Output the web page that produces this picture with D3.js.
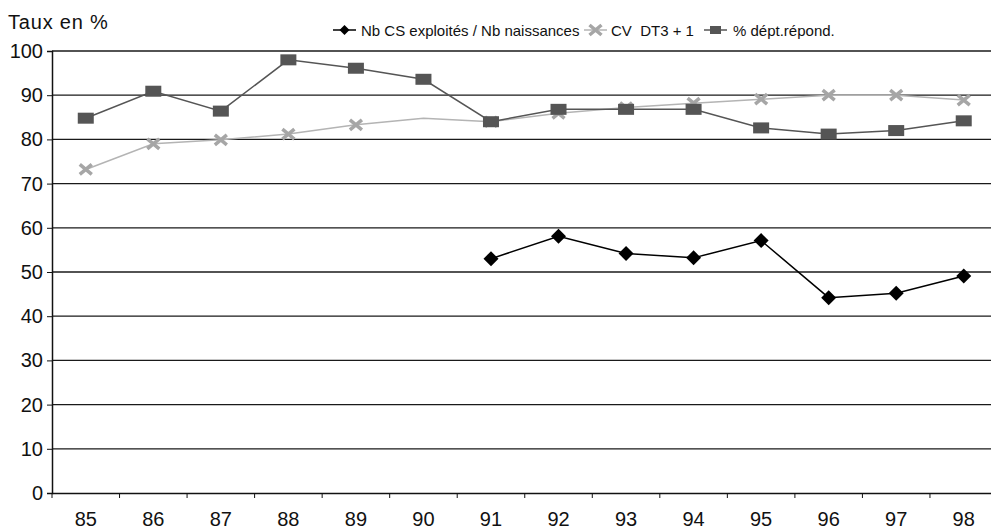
<!DOCTYPE html>
<html>
<head>
<meta charset="utf-8">
<script src="https://cdn.jsdelivr.net/npm/d3@7"></script>
<style>
  body { margin: 0; background: #fff; }
  svg { font-family: "Liberation Sans", Arial, sans-serif; }
</style>
</head>
<body>
<svg width="991" height="529"></svg>
<script>
let years = ["85", "86", "87", "88", "89", "90", "91", "92", "93", "94", "95", "96", "97", "98"];
let yTicks = [0, 10, 20, 30, 40, 50, 60, 70, 80, 90, 100];

// Nb CS exploités / Nb naissances (only from 91)
let csRatio = [null, null, null, null, null, null, 53, 58.1, 54.2, 53.2, 57.1, 44.2, 45.2, 49.1];
// CV DT3 + 1
let cvDt3 = [73.2, 79, 79.9, 81.2, 83.3, 84.8, 84, 85.9, 87.2, 88.2, 89.1, 90, 90, 88.9];
let cvNoMarker = ["90"];
// % dépt. répond.
let deptRep = [84.8, 90.9, 86.4, 98, 96.1, 93.6, 84, 86.8, 86.8, 86.8, 82.6, 81.2, 82, 84.2];

let svg = d3.select("svg");
let plotLeft = 52, plotRight = 997.5, plotTop = 51, plotBottom = 493;

let x = d3.scaleBand().domain(years).range([plotLeft, plotRight]);
let y = d3.scaleLinear().domain([0, 100]).range([plotBottom, plotTop]);
let cx = (d) => x(d) + x.bandwidth() / 2;

// gridlines
svg.append("g")
  .selectAll("line")
  .data(yTicks.filter((t) => t > 0))
  .enter()
  .append("line")
  .attr("x1", plotLeft)
  .attr("x2", 991)
  .attr("y1", (d) => y(d))
  .attr("y2", (d) => y(d))
  .style("stroke", "#1a1a1a")
  .attr("stroke-width", 1.3);

// y axis
let yAxis = svg.append("g")
  .attr("transform", `translate(${plotLeft},0)`)
  .call(d3.axisLeft(y).tickValues(yTicks).tickSize(5).tickPadding(4));
yAxis.select(".domain").attr("stroke", "#111").attr("stroke-width", 1.5);
yAxis.selectAll(".tick line").attr("stroke", "#111");
yAxis.selectAll("text").style("font-size", "20px").attr("fill", "#111");

// x axis
let xAxis = svg.append("g")
  .attr("transform", `translate(0,${plotBottom})`)
  .call(d3.axisBottom(x).tickSize(0).tickPadding(19));
xAxis.select(".domain").attr("stroke", "#111").attr("stroke-width", 1.5);
xAxis.selectAll("text").style("font-size", "20px").attr("fill", "#111");
svg.append("g")
  .selectAll("line")
  .data(years)
  .enter()
  .append("line")
  .attr("x1", (d) => x(d))
  .attr("x2", (d) => x(d))
  .attr("y1", plotBottom)
  .attr("y2", plotBottom + 5)
  .style("stroke", "#111");

svg.append("text")
  .attr("x", 8)
  .attr("y", 29)
  .style("font-size", "20px")
  .style("letter-spacing", "0.8px")
  .attr("fill", "#111")
  .text("Taux en %");

function series(vals) {
  return years.map((yr, i) => ({ yr: yr, v: vals[i] })).filter((d) => d.v !== null);
}

let line = d3.line().x((d) => cx(d.yr)).y((d) => y(d.v));

// CV DT3 + 1 (light grey, crosses)
let cvData = series(cvDt3);
svg.append("path")
  .datum(cvData)
  .attr("d", line)
  .attr("fill", "none")
  .style("stroke", "#b4b4b4")
  .attr("stroke-width", 1.5);

function cross(g, px, py) {
  g.append("path")
    .attr("d", `M${px - 6},${py - 5}L${px + 6},${py + 5}M${px - 6},${py + 5}L${px + 6},${py - 5}`)
    .style("stroke", "#a6a6a6")
    .attr("stroke-width", 3.5)
    .attr("fill", "none");
}
let cvG = svg.append("g");
cvData.filter((d) => !cvNoMarker.includes(d.yr)).forEach((d) => cross(cvG, cx(d.yr), y(d.v)));

// % dépt. répond. (dark grey, squares)
let depData = series(deptRep);
svg.append("path")
  .datum(depData)
  .attr("d", line)
  .attr("fill", "none")
  .style("stroke", "#555")
  .attr("stroke-width", 1.5);
svg.append("g")
  .selectAll("rect")
  .data(depData)
  .enter()
  .append("rect")
  .attr("x", (d) => cx(d.yr) - 8)
  .attr("y", (d) => y(d.v) - 5.5)
  .attr("width", 16)
  .attr("height", 11)
  .attr("fill", "#555");

// Nb CS exploités / Nb naissances (black, diamonds)
let csData = series(csRatio);
svg.append("path")
  .datum(csData)
  .attr("d", line)
  .attr("fill", "none")
  .style("stroke", "#000")
  .attr("stroke-width", 1.5);
let diamond = (px, py, r) => `M${px},${py - r}L${px + r},${py}L${px},${py + r}L${px - r},${py}Z`;
svg.append("g")
  .selectAll("path")
  .data(csData)
  .enter()
  .append("path")
  .attr("d", (d) => diamond(cx(d.yr), y(d.v), 7.5))
  .attr("fill", "#000");

// legend
let legend = svg.append("g").style("font-size", "15px");
let ly = 30;
legend.append("line").attr("x1", 333).attr("x2", 356).attr("y1", ly).attr("y2", ly).style("stroke", "#000").attr("stroke-width", 1.5);
legend.append("path").attr("d", diamond(344.5, ly, 5)).attr("fill", "#000");
legend.append("text").attr("x", 361).attr("y", ly + 5.5).attr("fill", "#111").text("Nb CS exploités / Nb naissances");

legend.append("line").attr("x1", 584).attr("x2", 607).attr("y1", ly).attr("y2", ly).style("stroke", "#b4b4b4").attr("stroke-width", 1.5);
cross(legend, 595.5, ly);
legend.append("text").attr("x", 611).attr("y", ly + 5.5).attr("fill", "#111").style("white-space", "pre").text("CV  DT3 + 1");

legend.append("line").attr("x1", 704).attr("x2", 727).attr("y1", ly).attr("y2", ly).style("stroke", "#555").attr("stroke-width", 1.5);
legend.append("rect").attr("x", 710).attr("y", ly - 4).attr("width", 11).attr("height", 8).attr("fill", "#555");
legend.append("text").attr("x", 733).attr("y", ly + 5.5).attr("fill", "#111").text("% dépt.répond.");
</script>
</body>
</html>
